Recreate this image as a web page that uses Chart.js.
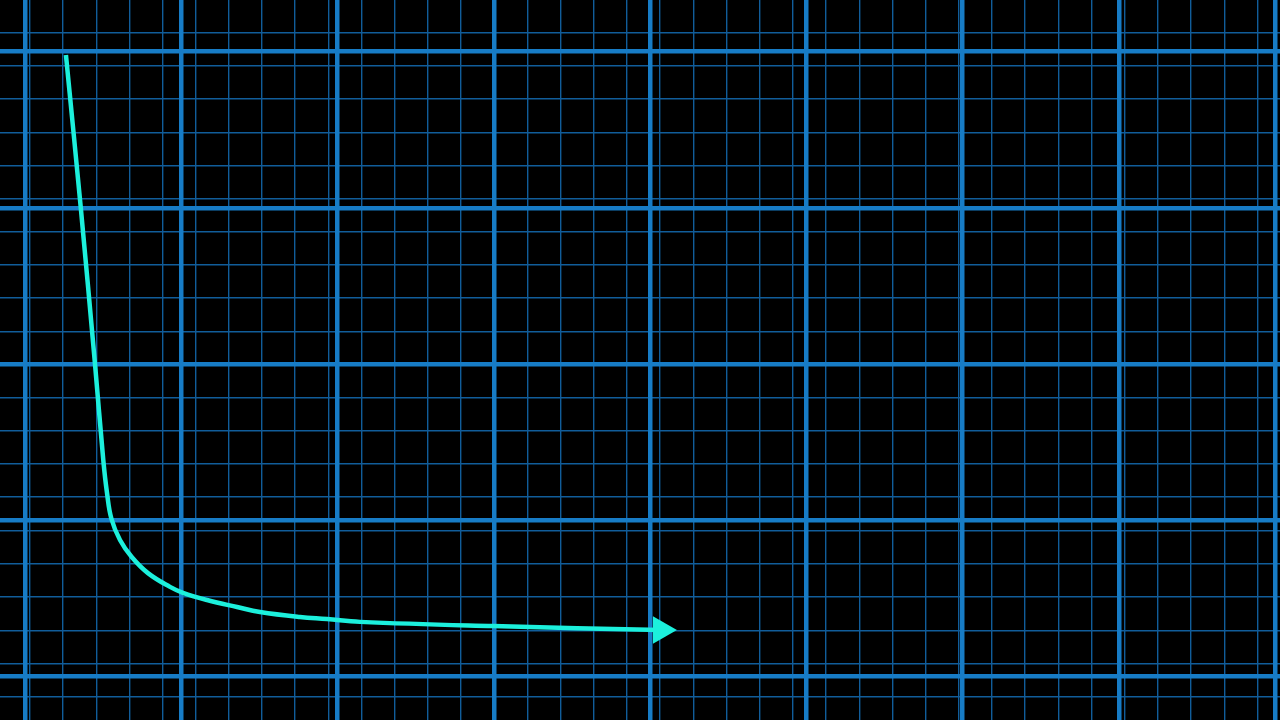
<!DOCTYPE html>
<html>
<head>
<meta charset="utf-8">
<script src="https://cdn.jsdelivr.net/npm/chart.js@4"></script>
<style>
  html, body { margin: 0; padding: 0; background: #000; }
  canvas { display: block; }
</style>
</head>
<body>
<canvas id="chart" width="1280" height="720"></canvas>
<script>
// curve, in grid units (one unit = one major cell)
const curveX = [0.262, 0.357, 0.448, 0.501, 0.525, 0.553, 0.608, 0.683, 0.787, 0.928, 1.011, 1.165, 1.357, 1.504, 1.760, 1.933, 2.144, 2.995, 4.070];
const curveY = [3.978, 3.000, 2.000, 1.386, 1.174, 1.010, 0.874, 0.765, 0.662, 0.574, 0.536, 0.490, 0.445, 0.413, 0.381, 0.368, 0.350, 0.323, 0.298];

// grid lines
const majorX = [0, 1, 2, 3, 4, 5, 6, 7, 8];
const majorY = [0, 1, 2, 3, 4];
const minorX = [0.031, 0.243, 0.456, 0.668, 0.880, 1.092, 1.305, 1.517, 1.729, 1.942, 2.154, 2.367, 2.579, 2.791, 3.004, 3.216, 3.428, 3.641, 3.853, 4.065, 4.278, 4.490, 4.703, 4.915, 5.127, 5.340, 5.552, 5.764, 5.976, 6.189, 6.401, 6.614, 6.826, 7.038, 7.251, 7.463, 7.676, 7.888];
const minorY = [-0.131, 0.083, 0.291, 0.509, 0.720, 0.931, 1.149, 1.360, 1.571, 1.782, 1.994, 2.205, 2.422, 2.634, 2.845, 3.056, 3.267, 3.478, 3.696, 3.907, 4.118];

const xMin = -0.16, xMax = 8.032;
const yMin = -0.278, yMax = 4.330;

const points = curveX.map((x, i) => ({ x: x, y: curveY[i] }));
const radii = points.map((p, i) => i === points.length - 1 ? 16 : 0);

function gridAxis(min, max, values, pos, color, width, z) {
    return {
        type: 'linear',
        position: pos,
        min: min,
        max: max,
        z: z,
        ticks: { display: false },
        border: { display: false },
        grid: { color: color, lineWidth: width, drawTicks: false },
        afterBuildTicks: scale => { scale.ticks = values.map(v => ({ value: v })); }
    };
}

new Chart(document.getElementById('chart'), {
    type: 'line',
    data: {
        datasets: [{
            data: points,
            borderColor: '#1cf0dc',
            backgroundColor: '#1cf0dc',
            borderWidth: 4.5,
            tension: 0.4,
            pointStyle: 'triangle',
            pointRotation: 90,
            pointRadius: radii,
            pointBorderWidth: 0,
            pointHoverRadius: radii,
            fill: false,
            xAxisID: 'x',
            yAxisID: 'y'
        }]
    },
    options: {
        responsive: false,
        animation: false,
        events: [],
        layout: { padding: 0, autoPadding: false },
        plugins: { legend: { display: false }, tooltip: { enabled: false } },
        scales: {
            xMinor: gridAxis(xMin, xMax, minorX, 'bottom', '#115d9a', 1.4, -2),
            yMinor: gridAxis(yMin, yMax, minorY, 'left', '#115d9a', 1.4, -2),
            x: gridAxis(xMin, xMax, majorX, 'bottom', '#177cc6', 4.5, -1),
            y: gridAxis(yMin, yMax, majorY, 'left', '#177cc6', 4.5, -1)
        }
    }
});
</script>
</body>
</html>
